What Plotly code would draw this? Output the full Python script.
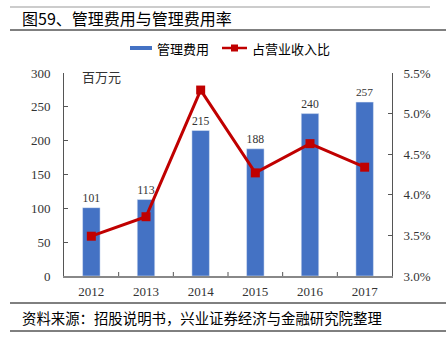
import plotly.graph_objects as go

years = ["2012", "2013", "2014", "2015", "2016", "2017"]
expense = [101, 113, 215, 188, 240, 257]           # 管理费用 (百万元)
ratio = [3.49, 3.73, 5.29, 4.27, 4.63, 4.34]        # 占营业收入比 (%)
left_ticks = [0, 50, 100, 150, 200, 250, 300]
right_ticks = [3.0, 3.5, 4.0, 4.5, 5.0, 5.5]
right_tick_text = ["3.0%", "3.5%", "4.0%", "4.5%", "5.0%", "5.5%"]

BLUE = "#4472C4"
RED = "#C00000"
NUM_FONT = "Liberation Serif, Noto Sans CJK SC"
CJK_FONT = "Noto Sans CJK SC"

W, H = 446, 343
L, R, T, B = 64, 54, 73, 67
PW, PH = W - L - R, H - T - B


def px(x):
    return (x - L) / PW


def py(y):
    return (H - B - y) / PH


fig = go.Figure()
fig.add_trace(go.Bar(
    x=years, y=expense, name="管理费用", marker_color=BLUE, width=0.32,
    text=[str(v) for v in expense], textposition="outside",
    textfont=dict(family=NUM_FONT, size=13, color="#333333"),
    cliponaxis=False, yaxis="y",
))
fig.add_trace(go.Scatter(
    x=years, y=ratio, name="占营业收入比", mode="lines+markers",
    line=dict(color=RED, width=3),
    marker=dict(symbol="square", size=9, color=RED),
    yaxis="y2", cliponaxis=False,
))

fig.update_layout(
    width=W, height=H,
    margin=dict(l=L, r=R, t=T, b=B),
    paper_bgcolor="white", plot_bgcolor="white",
    showlegend=False,
    font=dict(family=NUM_FONT, size=13, color="#333333"),
    xaxis=dict(
        type="category", showline=True, linecolor="#888888", linewidth=2,
        ticks="", showgrid=False, ticklabelstandoff=2,
        tickfont=dict(family=NUM_FONT, size=13, color="#333333"),
    ),
    yaxis=dict(
        range=[0, 300], tickvals=left_ticks, showgrid=False, zeroline=False,
        showline=True, linecolor="#555555", linewidth=1,
        ticks="inside", ticklen=4, tickcolor="#555555", ticklabelstandoff=10,
        tickfont=dict(family=NUM_FONT, size=13, color="#333333"),
    ),
    yaxis2=dict(
        overlaying="y", side="right", range=[3.0, 5.5],
        tickvals=right_ticks, ticktext=right_tick_text, showgrid=False, zeroline=False,
        showline=True, linecolor="#555555", linewidth=1,
        ticks="inside", ticklen=4, tickcolor="#555555", ticklabelstandoff=8,
        tickfont=dict(family=NUM_FONT, size=13, color="#333333"),
    ),
)

shapes = []
# category boundary ticks on the x axis
for i in range(1, len(years)):
    xb = L + PW * i / len(years)
    shapes.append(dict(type="line", xref="paper", yref="paper",
                       x0=px(xb), x1=px(xb), y0=0, y1=py(H - B - 4),
                       line=dict(color="#555555", width=1)))
# header and footer rules
shapes += [
    dict(type="line", xref="paper", yref="paper", x0=px(10), x1=px(430), y0=py(7), y1=py(7),
         line=dict(color="#BBBBBB", width=1.5)),
    dict(type="line", xref="paper", yref="paper", x0=px(10), x1=px(446), y0=py(30), y1=py(30),
         line=dict(color="#000000", width=1)),
    dict(type="line", xref="paper", yref="paper", x0=px(10), x1=px(446), y0=py(303), y1=py(303),
         line=dict(color="#000000", width=1)),
    dict(type="line", xref="paper", yref="paper", x0=px(10), x1=px(446), y0=py(331), y1=py(331),
         line=dict(color="#000000", width=1)),
    # legend swatches
    dict(type="rect", xref="paper", yref="paper", x0=px(130), x1=px(152), y0=py(50), y1=py(46),
         fillcolor=BLUE, line=dict(width=0)),
    dict(type="line", xref="paper", yref="paper", x0=px(222), x1=px(247), y0=py(48), y1=py(48),
         line=dict(color=RED, width=2.5)),
    dict(type="rect", xref="paper", yref="paper", x0=px(231), x1=px(238), y0=py(51.5), y1=py(44.5),
         fillcolor=RED, line=dict(width=0)),
]
fig.update_layout(shapes=shapes)

annotations = [
    dict(text="图59、管理费用与管理费用率", x=px(20), y=py(18), xanchor="left", yanchor="middle",
         font=dict(family=CJK_FONT, size=16, color="#000000")),
    dict(text="管理费用", x=px(155), y=py(48), xanchor="left", yanchor="middle",
         font=dict(family=CJK_FONT, size=13, color="#000000")),
    dict(text="占营业收入比", x=px(250), y=py(48), xanchor="left", yanchor="middle",
         font=dict(family=CJK_FONT, size=13, color="#000000")),
    dict(text="百万元", x=px(80), y=py(76), xanchor="left", yanchor="middle",
         font=dict(family=CJK_FONT, size=13, color="#333333")),
    dict(text="资料来源：招股说明书，兴业证券经济与金融研究院整理", x=px(20), y=py(317),
         xanchor="left", yanchor="middle",
         font=dict(family=CJK_FONT, size=14.4, color="#000000")),
]
for a in annotations:
    a.update(xref="paper", yref="paper", showarrow=False)
fig.update_layout(annotations=annotations)

fig.write_html("out.html")
